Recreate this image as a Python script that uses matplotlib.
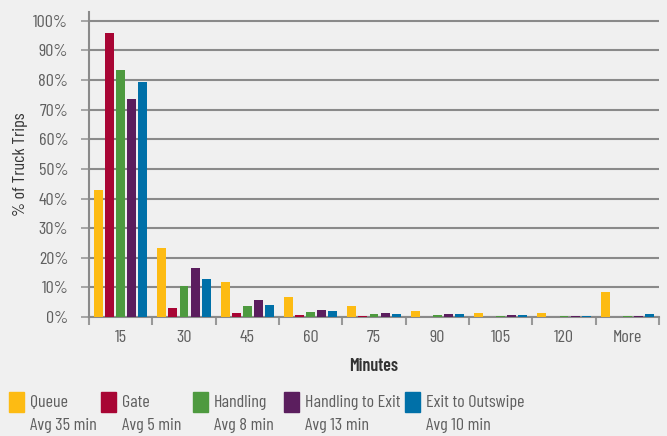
import numpy as np
import matplotlib
matplotlib.use("Agg")
import matplotlib.pyplot as plt
from matplotlib.patches import Rectangle

plt.rcParams['font.family'] = ['Barlow Condensed', 'DejaVu Sans']

# duration buckets (minutes) and share of truck trips per stage
buckets = ["15", "30", "45", "60", "75", "90", "105", "120", "More"]
queue = [42.9, 23.3, 11.8, 6.8, 3.7, 2.0, 1.3, 1.3, 8.4]
gate = [95.9, 3.0, 1.4, 0.7, 0.3, 0.0, 0.0, 0.0, 0.0]
handling = [83.4, 10.5, 3.7, 1.7, 1.0, 0.7, 0.3, 0.3, 0.3]
handling_to_exit = [73.6, 16.6, 5.7, 2.4, 1.3, 1.0, 0.7, 0.3, 0.3]
exit_to_outswipe = [79.4, 12.8, 4.1, 2.0, 1.0, 1.0, 0.7, 0.3, 1.0]

series_names = ["Queue", "Gate", "Handling", "Handling to Exit", "Exit to Outswipe"]
series_avgs = ["Avg 35 min", "Avg 5 min", "Avg 8 min", "Avg 13 min", "Avg 10 min"]
colors = ["#FDBB13", "#A80534", "#4E9A3F", "#5B1E5E", "#0070A8"]

BG = "#F0F0F0"
TXT = "#5f5f5f"
FS = 13

fig = plt.figure(figsize=(6.67, 4.36), dpi=100, facecolor=BG)
ax = fig.add_axes([89 / 667, 119 / 436, 570 / 667, 305 / 436])
ax.set_facecolor(BG)

all_series = [queue, gate, handling, handling_to_exit, exit_to_outswipe]
x = np.arange(len(buckets))
step = 0.174
width = 0.142
for i, (vals, c) in enumerate(zip(all_series, colors)):
    ax.bar(x + (i - 2) * step, vals, width=width, color=c, zorder=3)

ax.set_xlim(-0.5, len(buckets) - 0.5)
ax.set_ylim(0, 103)
ax.set_yticks(np.arange(0, 101, 10))
ax.set_yticklabels([f"{v}%" for v in range(0, 101, 10)])
ax.set_xticks(x)
ax.set_xticklabels(buckets)
ax.set_xticks(np.arange(-0.5, len(buckets)), minor=True)
ax.tick_params(axis='x', which='major', length=0, pad=9, labelsize=FS, colors=TXT)
ax.tick_params(axis='x', which='minor', length=6, width=1.5, color="#999999")
ax.tick_params(axis='y', length=6, width=1.2, color="#999999", labelsize=FS, colors=TXT, pad=9)

ax.yaxis.grid(True, color="#8a8a8a", linewidth=1.5, zorder=0)
for sp in ["top", "right"]:
    ax.spines[sp].set_visible(False)
for sp in ["left", "bottom"]:
    ax.spines[sp].set_color("#8a8a8a")
    ax.spines[sp].set_linewidth(1.5)

ax.set_xlabel("Minutes", fontsize=FS, fontweight="semibold", color="#333333", labelpad=10)
ax.set_ylabel("% of Truck Trips", fontsize=FS, color="#333333", labelpad=4)

# legend: colour square with name and average below
leg_x = [9, 101, 193, 284, 405]
for lx, name, avg, c in zip(leg_x, series_names, series_avgs, colors):
    fig.patches.append(Rectangle((lx / 667, 1 - 412 / 436), 15 / 667, 20 / 436,
                                 transform=fig.transFigure, color=c))
    fig.text((lx + 21) / 667, 1 - 402 / 436, name, fontsize=FS, color=TXT, va="center")
    fig.text((lx + 21) / 667, 1 - 425 / 436, avg, fontsize=FS, color=TXT, va="center")

fig.savefig("out.png", dpi=100, facecolor=BG)
